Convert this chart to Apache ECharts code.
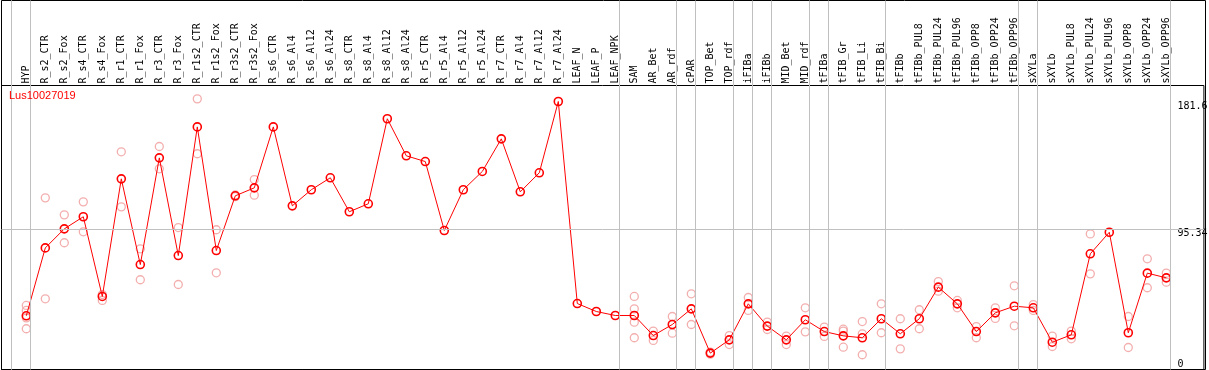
<!DOCTYPE html>
<html><head><meta charset="utf-8">
<script src="https://cdn.jsdelivr.net/npm/echarts@6/dist/echarts.min.js"></script>
<style>html,body{margin:0;padding:0;background:#fff}#c{width:1209px;height:370px}</style>
</head><body><div id="c"></div>
<script>
const chartTitle = 'Lus10027019';
const categories = ['HYP','R_s2_CTR','R_s2_Fox','R_s4_CTR','R_s4_Fox','R_r1_CTR','R_r1_Fox','R_r3_CTR','R_r3_Fox','R_r1s2_CTR','R_r1s2_Fox','R_r3s2_CTR','R_r3s2_Fox','R_s6_CTR','R_s6_Al4','R_s6_Al12','R_s6_Al24','R_s8_CTR','R_s8_Al4','R_s8_Al12','R_s8_Al24','R_r5_CTR','R_r5_Al4','R_r5_Al12','R_r5_Al24','R_r7_CTR','R_r7_Al4','R_r7_Al12','R_r7_Al24','LEAF_N','LEAF_P','LEAF_NPK','SAM','AR_Bet','AR_rdf','cPAR','TOP_Bet','TOP_rdf','iFIBa','iFIBb','MID_Bet','MID_rdf','tFIBa','tFIB_Gr','tFIB_Li','tFIB_Bi','tFIBb','tFIBb_PUL8','tFIBb_PUL24','tFIBb_PUL96','tFIBb_OPP8','tFIBb_OPP24','tFIBb_OPP96','sXYLa','sXYLb','sXYLb_PUL8','sXYLb_PUL24','sXYLb_PUL96','sXYLb_OPP8','sXYLb_OPP24','sXYLb_OPP96'];
const means = [36.4,82.4,95.3,103.5,49.5,129.2,71.1,143.4,77.2,164.4,80.6,117.7,123.1,164.4,110.9,121.8,129.9,106.9,112.3,169.9,144.8,140.9,94.2,121.8,134.2,156.3,120.4,133.3,181.6,44.7,39.3,36.6,36.6,23.0,30.5,41.1,11.1,20.1,44.5,29.4,20.1,33.7,25.7,22.8,21.5,34.4,24.2,34.4,55.8,44.5,25.7,38.4,42.9,41.8,18.5,23.5,78.4,93.0,24.9,65.3,62.1];
const replicates = [
  [43.4,40.0,35.0,27.6],[116.3,47.9],[104.8,85.9],[113.6,93.3],[50.8,46.8],[147.5,110.2],[81.8,60.8],[151.1,136.0],[96.2,57.6],[183.4,146.2],[94.7,65.5],[118.3,117.1],[128.7,118.1],
  [],[],[],[],[],[],[],[],[],[],[],[],[],[],[],[],
  [],[],[],
  [49.5,41.1,32.1,21.5],[26.0,19.7],[35.9,24.6],[51.3,30.5],[11.8,10.4],[23.0,16.9],[48.8,40.0],[32.1,27.1],[22.6,16.9],[41.8,25.5],[28.7,22.4],[27.3,26.0,15.1],[32.5,24.2,10.0],[44.5,24.9],
  [34.4,14.0],[40.5,27.6],[59.6,53.1],[46.8,41.8],[29.1,21.5],[41.8,34.6],[56.7,29.6],
  [44.0,40.0],[22.6,15.6],[26.0,20.8],[91.9,64.8],[],[35.9,14.9],[75.0,55.4],[65.3,59.2]
];
const groupEnds = ['', 'HYP','R_r7_A124','LEAF_NPK','AR_rdf','cPAR','TOP_rdf','iFIBa','iFIBb','MID_rdf','tFIBa','tFIB_Bi','tFIBb_OPP96','sXYLa','sXYLb_OPP96'];
const refLineValues = [95.34];
const yTopTickValues = [95.34, 181.6];
const yTopTickLabels = ['95.34', '181.6'];
const yBottomTickValues = [0];
const yBottomTickLabels = ['0'];
const yMax = 192.44;

// layout
const FRAME_L = 1.5, FRAME_W = 1204, PLOT_T = 85.5, PLOT_H = 284;
const CAT_W = 19, DATA_L = 16.8;
const vMin = -((DATA_L + CAT_W / 2) - FRAME_L) / CAT_W;
const vMax = vMin + FRAME_W / CAT_W;

const repData = [];
replicates.forEach((arr, i) => arr.forEach(v => repData.push([i, v])));

const chart = echarts.init(document.getElementById('c'));
const mono = 'DejaVu Sans Mono';
function labelFmt(vals, labs) {
  return v => { const k = vals.findIndex(t => Math.abs(t - v) < 1e-6); return k >= 0 ? labs[k] : ''; };
}
chart.setOption({
  animation: false,
  title: { text: chartTitle, left: 9, top: 90, padding: 0,
    textStyle: { color: '#ff0000', fontSize: 11, fontWeight: 'normal', fontFamily: 'Liberation Sans' } },
  grid: [
    { left: FRAME_L, top: 0.5, width: FRAME_W, height: 369, show: true, borderColor: '#000', borderWidth: 1, backgroundColor: 'transparent' },
    { left: FRAME_L, top: PLOT_T, width: FRAME_W, height: PLOT_H, show: true, borderColor: '#000', borderWidth: 1, backgroundColor: 'transparent' },
    { left: DATA_L, top: PLOT_T, width: CAT_W * categories.length, height: PLOT_H }
  ],
  xAxis: [
    { gridIndex: 0, type: 'value', min: vMin, max: vMax, show: false },
    { gridIndex: 1, type: 'value', min: vMin, max: vMax, show: false },
    { gridIndex: 2, type: 'category', position: 'top', data: categories, boundaryGap: true,
      axisLine: { show: false }, axisTick: { show: false }, splitLine: { show: false },
      axisLabel: { rotate: 90, interval: 0, margin: 2, color: '#000', fontFamily: mono, fontSize: 10 } }
  ],
  yAxis: [
    { gridIndex: 0, type: 'value', min: 0, max: 1, show: false },
    { gridIndex: 1, type: 'value', min: 0, max: yMax, position: 'left', offset: -1176,
      axisLine: { show: false }, axisTick: { show: false }, splitLine: { show: false },
      axisLabel: { inside: true, margin: 0, verticalAlign: 'top', color: '#000', fontFamily: mono, fontSize: 10,
        customValues: yTopTickValues, formatter: labelFmt(yTopTickValues, yTopTickLabels) } },
    { gridIndex: 2, type: 'value', min: 0, max: yMax, show: false },
    { gridIndex: 1, type: 'value', min: 0, max: yMax, position: 'left', offset: -1176,
      axisLine: { show: false }, axisTick: { show: false }, splitLine: { show: false },
      axisLabel: { inside: true, margin: 0, verticalAlign: 'bottom', color: '#000', fontFamily: mono, fontSize: 10,
        customValues: yBottomTickValues, formatter: labelFmt(yBottomTickValues, yBottomTickLabels) } }
  ],
  series: [
    { type: 'line', xAxisIndex: 0, yAxisIndex: 0, data: [[vMin, 0]], showSymbol: false, lineStyle: { opacity: 0 }, silent: true,
      markLine: { silent: true, symbol: ['none', 'none'], label: { show: false },
        lineStyle: { color: '#c0c0c0', type: 'solid', width: 1 },
        data: groupEnds.map(n => ({ xAxis: categories.indexOf(n) + 0.2 })) } },
    { type: 'line', xAxisIndex: 1, yAxisIndex: 1, data: [[vMin, 0]], showSymbol: false, lineStyle: { opacity: 0 }, silent: true,
      markLine: { silent: true, symbol: ['none', 'none'], label: { show: false },
        lineStyle: { color: '#c0c0c0', type: 'solid', width: 1 },
        data: refLineValues.map(v => ({ yAxis: v })) } },
    { type: 'scatter', xAxisIndex: 2, yAxisIndex: 2, data: repData, symbol: 'circle', symbolSize: 8,
      itemStyle: { color: 'rgba(0,0,0,0)', borderColor: '#f09a9a', borderWidth: 1.3 } },
    { type: 'line', xAxisIndex: 2, yAxisIndex: 2, data: means, symbol: 'circle', symbolSize: 8, showAllSymbol: true,
      lineStyle: { color: '#ff0000', width: 1 },
      itemStyle: { color: 'rgba(0,0,0,0)', borderColor: '#ff0000', borderWidth: 1.6 } }
  ]
});
</script></body></html>
